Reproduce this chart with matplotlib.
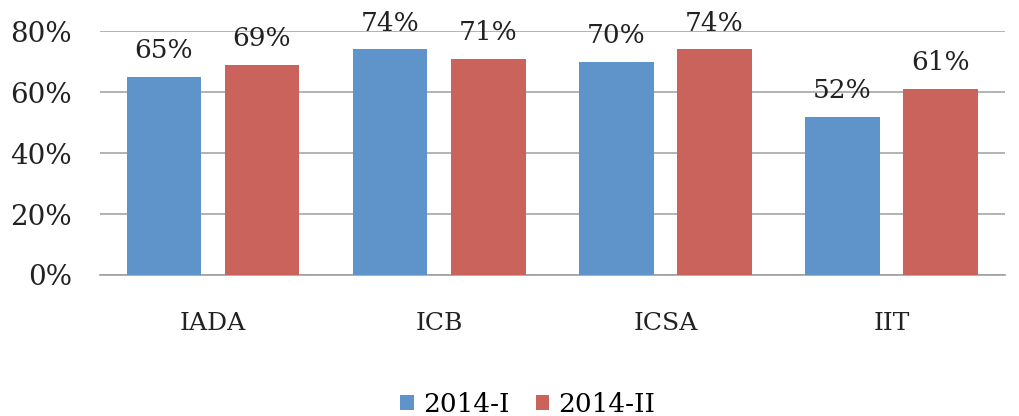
import matplotlib.pyplot as plt
import numpy as np

categories = ['IADA', 'ICB', 'ICSA', 'IIT']
series_names = ['2014-I', '2014-II']
values_1 = [65, 74, 70, 52]
values_2 = [69, 71, 74, 61]
yticks = [0, 20, 40, 60, 80]

blue = '#5E94C9'
red = '#CA635C'

plt.rcParams['font.family'] = ['DejaVu Serif']

fig = plt.figure(figsize=(10.19, 4.16), dpi=100)
ax = fig.add_axes([0.098, 0.339, 0.888, 0.586])

x = np.arange(len(categories))
w = 0.33
off = 0.217
b1 = ax.bar(x - off, values_1, w, color=blue, label=series_names[0], zorder=3)
b2 = ax.bar(x + off, values_2, w, color=red, label=series_names[1], zorder=3)

for bars, vals in ((b1, values_1), (b2, values_2)):
    for r, v in zip(bars, vals):
        ax.text(r.get_x() + r.get_width() / 2, v + 4.5, '%d%%' % v,
                ha='center', va='bottom', fontsize=19, color='#222222')

ax.set_xlim(-0.5, len(categories) - 0.5)
ax.set_ylim(0, 80)
ax.set_yticks(yticks)
ax.set_yticklabels(['%d%%' % t for t in yticks], fontsize=20, color='#222222')
ax.set_xticks(x)
ax.set_xticklabels(categories, fontsize=18, color='#222222')
ax.tick_params(axis='x', length=0, pad=27)
ax.tick_params(axis='y', length=0, pad=20)
ax.yaxis.grid(True, color='#A6A6A6', linewidth=1.2, zorder=0)
for s in ['top', 'right', 'left']:
    ax.spines[s].set_visible(False)
ax.spines['bottom'].set_color('#A0A0A0')
ax.spines['bottom'].set_linewidth(1.2)

fig.legend(loc='lower center', ncol=2, frameon=False, fontsize=19,
           handlelength=0.5, handleheight=0.5, handletextpad=0.35,
           columnspacing=1.0, bbox_to_anchor=(0.518, -0.06))

fig.savefig('out.png', dpi=100)
